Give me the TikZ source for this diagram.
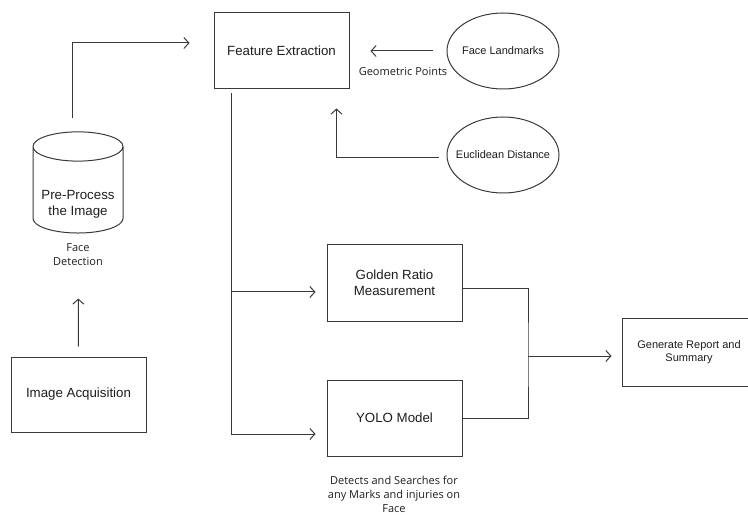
\documentclass[tikz,border=0pt]{standalone}
\usepackage{fontspec}
\setmainfont{Liberation Sans}
\newfontfamily\notefont{Open Sans}
\usepackage{xcolor}
\usepackage{tikz}
\usetikzlibrary{shapes.geometric,arrows.meta}

\definecolor{linecol}{HTML}{3A3A3A}
\definecolor{txtcol}{HTML}{1E1E1E}

\begin{document}
\begin{tikzpicture}[inner sep=0pt,
  box/.style={shape=rectangle, draw=linecol, line width=1.0pt, fill=white, align=center, text=txtcol, font=\fontsize{13.3}{16}\selectfont},
  oval/.style={shape=ellipse, draw=linecol, line width=1.0pt, fill=white, align=center, text=txtcol, inner xsep=-12pt, minimum width=112pt, minimum height=76pt, font=\fontsize{11}{13}\selectfont},
  drum/.style={shape=cylinder, shape border rotate=90, aspect=0.4, draw=linecol, line width=1.0pt, fill=white, align=center, text=txtcol, minimum width=90pt, minimum height=90pt, font=\fontsize{13.3}{16}\selectfont},
  note/.style={align=center, text=txtcol, font=\notefont\fontsize{11}{14}\selectfont},
  flow/.style={draw=linecol, line width=1.0pt, -{Straight Barb[length=5pt,width=11pt]}},
  wire/.style={draw=linecol, line width=1.0pt}]
\useasboundingbox (0pt,0pt) rectangle (748pt,-516pt);
\clip (0pt,0pt) rectangle (748pt,-516pt);
\node (n0) [box, minimum height=76pt, minimum width=135pt, at={(281.5pt,-51pt)}] {Feature Extraction};
\node (n1) [oval, at={(503pt,-51pt)}] {Face Landmarks};
\node (n2) [oval, at={(503pt,-155pt)}] {Euclidean Distance};
% empty lines push the text below the top cap
\node (n3) [drum, at={(78pt,-190pt)}] {\mbox{}\\\mbox{}\\[6pt]Pre-Process\\the Image};
\node (n4) [box, minimum height=75pt, minimum width=135pt, at={(78.5pt,-394.5pt)}] {Image Acquisition};
\node (n5) [box, minimum height=76pt, minimum width=135pt, at={(394.5pt,-283pt)}] {Golden Ratio\\Measurement};
\node (n6) [box, minimum height=76pt, minimum width=135pt, at={(394.5pt,-418pt)}] {YOLO Model};
\node (n7) [box, minimum height=68pt, minimum width=134pt, at={(689pt,-352pt)}, font=\fontsize{11}{13}\selectfont] {Generate Report and\\Summary};
\node (l0) [note, at={(78pt,-255pt)}] {Face\\Detection};
\node (l1) [note, at={(403pt,-72pt)}] {Geometric Points};
\node (l2) [note, at={(394pt,-494pt)}] {Detects and Searches for\\any Marks and injuries on\\Face};
\coordinate (j0) at (528pt,-356pt);


\path [flow, shorten <=13pt, shorten >=24pt]([xshift=-5pt]n3.north) |- ([yshift=8pt]n0.west);


\path [flow, shorten <=14pt, shorten >=21pt](n1.west)--(n0.east);


\path [flow, shorten <=8pt, shorten >=19pt]([yshift=-3pt]n2.west) -| ([xshift=-13pt]n0.south east);


\path [flow, shorten <=10pt, shorten >=65pt](n4.north)--(n3.south);


\path [flow, shorten >=11pt]([xshift=18pt,yshift=-4pt]n0.south west) |- ([yshift=-16pt]n6.west);


\path [flow, shorten >=11pt]([xshift=18pt,yshift=-9pt]n0.south west |- n5.west) -- ([yshift=-9pt]n5.west);


\path [wire]([yshift=-6pt]n5.east) -| (j0) |- (n6.east);


\path [flow, shorten >=10pt](j0) -- ([yshift=-4pt]n7.west);
\end{tikzpicture}
\end{document}
